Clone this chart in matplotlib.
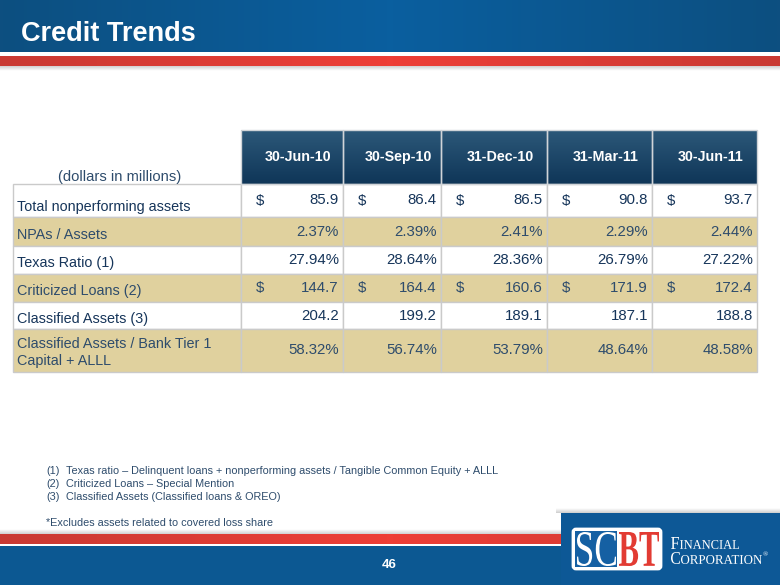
import numpy as np
import matplotlib.pyplot as plt
from matplotlib.patches import Rectangle, FancyBboxPatch, PathPatch
from matplotlib.textpath import TextPath
from matplotlib.font_manager import FontProperties
from matplotlib.colors import LinearSegmentedColormap
import matplotlib.transforms as mtransforms

# ── Data ──────────────────────────────────────────────────────────────────────
periods = ["30-Jun-10", "30-Sep-10", "31-Dec-10", "31-Mar-11", "30-Jun-11"]
row_labels = ["Total nonperforming assets", "NPAs / Assets", "Texas Ratio (1)",
              "Criticized Loans (2)", "Classified Assets (3)",
              "Classified Assets / Bank Tier 1\nCapital + ALLL"]
npa_total = [85.9, 86.4, 86.5, 90.8, 93.7]
npa_pct = [2.37, 2.39, 2.41, 2.29, 2.44]
texas_ratio = [27.94, 28.64, 28.36, 26.79, 27.22]
criticized = [144.7, 164.4, 160.6, 171.9, 172.4]
classified = [204.2, 199.2, 189.1, 187.1, 188.8]
classified_ratio = [58.32, 56.74, 53.79, 48.64, 48.58]
row_kinds = ["dollar", "pct", "pct", "dollar", "num", "pct"]
note_nums = ["(1)", "(2)", "(3)"]
note_texts = ["Texas ratio \u2013 Delinquent loans + nonperforming assets / Tangible Common Equity + ALLL",
              "Criticized Loans \u2013 Special Mention",
              "Classified Assets (Classified loans & OREO)"]

rows = [npa_total, npa_pct, texas_ratio, criticized, classified, classified_ratio]

NAVY = "#16355a"
NAVY2 = "#2e4c6c"
TAN = "#e0d19e"
BLUE = "#0c5892"
RED = "#e23b33"
GRID = "#cacaca"
FONT = "Liberation Sans"

fig = plt.figure(figsize=(7.8, 5.85), dpi=100)
ax = fig.add_axes([0, 0, 1, 1])
ax.set_xlim(0, 780)
ax.set_ylim(585, 0)
ax.axis("off")

# ── Header band ───────────────────────────────────────────────────────────────
band = 1 - np.abs(np.linspace(-1, 1, 256))
ax.imshow(np.vstack([band, band]), extent=(0, 780, 52, 0), aspect="auto",
          cmap=LinearSegmentedColormap.from_list("b", ["#0d4f80", "#0a5f9f"]), zorder=0)
ax.imshow(np.vstack([band, band]), extent=(0, 780, 66, 56), aspect="auto",
          cmap=LinearSegmentedColormap.from_list("r", ["#c93a33", "#ee3e36"]), zorder=0)
ax.imshow(np.linspace(1, 0, 10)[:, None], extent=(0, 780, 71, 66), aspect="auto",
          cmap=LinearSegmentedColormap.from_list("s", ["#ffffff", "#d2d2d2"]), zorder=0)
ax.text(21, 34, "Credit Trends", color="white", fontsize=19.5, fontweight="bold",
        family=FONT, va="center", ha="left")

# ── Footer band ───────────────────────────────────────────────────────────────
ax.imshow(np.linspace(0, 1, 10)[:, None], extent=(0, 780, 534, 529), aspect="auto",
          cmap=LinearSegmentedColormap.from_list("s2", ["#ffffff", "#d2d2d2"]), zorder=0)
ax.imshow(np.vstack([band, band]), extent=(0, 780, 544, 534), aspect="auto",
          cmap=LinearSegmentedColormap.from_list("r2", ["#c93a33", "#ee3e36"]), zorder=0)
ax.add_patch(Rectangle((0, 546), 780, 39, color=BLUE, lw=0))
ax.text(389, 565, "46", color="white", fontsize=9.5, fontweight="bold",
        family=FONT, ha="center", va="center")

# logo block (soft shadow, then box)
ax.imshow(np.linspace(0, 1, 10)[:, None], extent=(556, 780, 513, 508), aspect="auto",
          cmap=LinearSegmentedColormap.from_list("s3", ["#ffffff", "#cfcfcf"]), zorder=2)
ax.add_patch(Rectangle((561, 513), 219, 72, color="#0d5896", lw=0, zorder=3))


def put_word(word, x0, y0, w, h, color, weight="normal", family="Liberation Serif"):
    tp = TextPath((0, 0), word, size=10, prop=FontProperties(family=family, weight=weight))
    bb = tp.get_extents()
    tr = (mtransforms.Affine2D().translate(-bb.x0, -bb.y0)
          .scale(w / bb.width, -h / bb.height).translate(x0, y0 + h))
    ax.add_patch(PathPatch(tr.transform_path(tp), facecolor=color, lw=0, zorder=6))


ax.add_patch(FancyBboxPatch((573, 529), 88, 40, boxstyle="round,pad=0,rounding_size=3",
                            facecolor="white", edgecolor="white", lw=2, zorder=4))
ax.add_patch(Rectangle((575, 531), 42, 36, facecolor="#1560a3", lw=0, zorder=5))
put_word("SC", 577, 532, 39, 34, "white")
put_word("BT", 619, 532, 40, 34, RED, weight="bold")
put_word("F", 671, 537, 8, 12, "white")
put_word("INANCIAL", 680, 540, 59, 9, "white")
put_word("C", 671, 552, 9, 12, "white")
put_word("ORPORATION", 681, 555, 81, 9, "white")
ax.text(763, 555, "\u00ae", color="white", fontsize=5, family="Liberation Serif",
        ha="left", va="center", zorder=6)

# ── Table ─────────────────────────────────────────────────────────────────────
col_edges = [241, 343, 441, 547, 652, 757]
row_edges = [184, 217, 246, 274, 302, 329, 372]
left = 13
head_top = 130

ax.imshow(np.linspace(0, 1, 50)[:, None], extent=(col_edges[0], col_edges[-1], row_edges[0], head_top),
          aspect="auto", cmap=LinearSegmentedColormap.from_list("h", ["#2c5879", "#0f3658"]), zorder=1)
for j, per in enumerate(periods):
    x0, x1 = col_edges[j], col_edges[j + 1]
    ax.add_patch(Rectangle((x0, head_top), x1 - x0, row_edges[0] - head_top,
                           facecolor="none", edgecolor="#d0d4d8", lw=1, zorder=2))
    ax.text((x0 + x1) / 2 + 6, 157, per, color="white", fontsize=10.3, fontweight="bold",
            family=FONT, ha="center", va="center", zorder=3)

ax.text(120, 177, "(dollars in millions)", color=NAVY2, fontsize=10.6,
        family=FONT, ha="center", va="center")

for i, (lab, vals, kind) in enumerate(zip(row_labels, rows, row_kinds)):
    y0, y1 = row_edges[i], row_edges[i + 1]
    fc = "white" if i % 2 == 0 else TAN
    tc = NAVY if i % 2 == 0 else NAVY2
    ax.add_patch(Rectangle((left, y0), col_edges[0] - left, y1 - y0, facecolor=fc, edgecolor=GRID, lw=1))
    ly = (y0 + y1) / 2 + (6.5 if i == 0 else 3.5) - (1.5 if i == 5 else 0)
    ax.text(17, ly, lab, color=tc, fontsize=10.4, family=FONT,
            ha="left", va="center", linespacing=1.35)
    vy = (y0 + y1) / 2
    for j, v in enumerate(vals):
        x0, x1 = col_edges[j], col_edges[j + 1]
        ax.add_patch(Rectangle((x0, y0), x1 - x0, y1 - y0, facecolor=fc, edgecolor=GRID, lw=1))
        if kind == "pct":
            s = f"{v:.2f}%"
        else:
            s = f"{v:.1f}"
        ax.text(x1 - 4, vy, s, color=tc, fontsize=10.8, family=FONT,
                ha="right", va="center")
        if kind == "dollar":
            ax.text(x0 + 15, vy, "$", color=tc, fontsize=10.8, family=FONT,
                    ha="left", va="center")

# ── Footnotes ─────────────────────────────────────────────────────────────────
for k, (num, txt) in enumerate(zip(note_nums, note_texts)):
    ax.text(46, 471 + k * 13, num, color=NAVY2, fontsize=7.8, family=FONT, ha="left", va="center")
    ax.text(66, 471 + k * 13, txt, color=NAVY2, fontsize=7.8, family=FONT, ha="left", va="center")
ax.text(46, 523, "*Excludes assets related to covered loss share", color=NAVY2, fontsize=7.8,
        family=FONT, ha="left", va="center")

fig.savefig("out.png", dpi=100)
